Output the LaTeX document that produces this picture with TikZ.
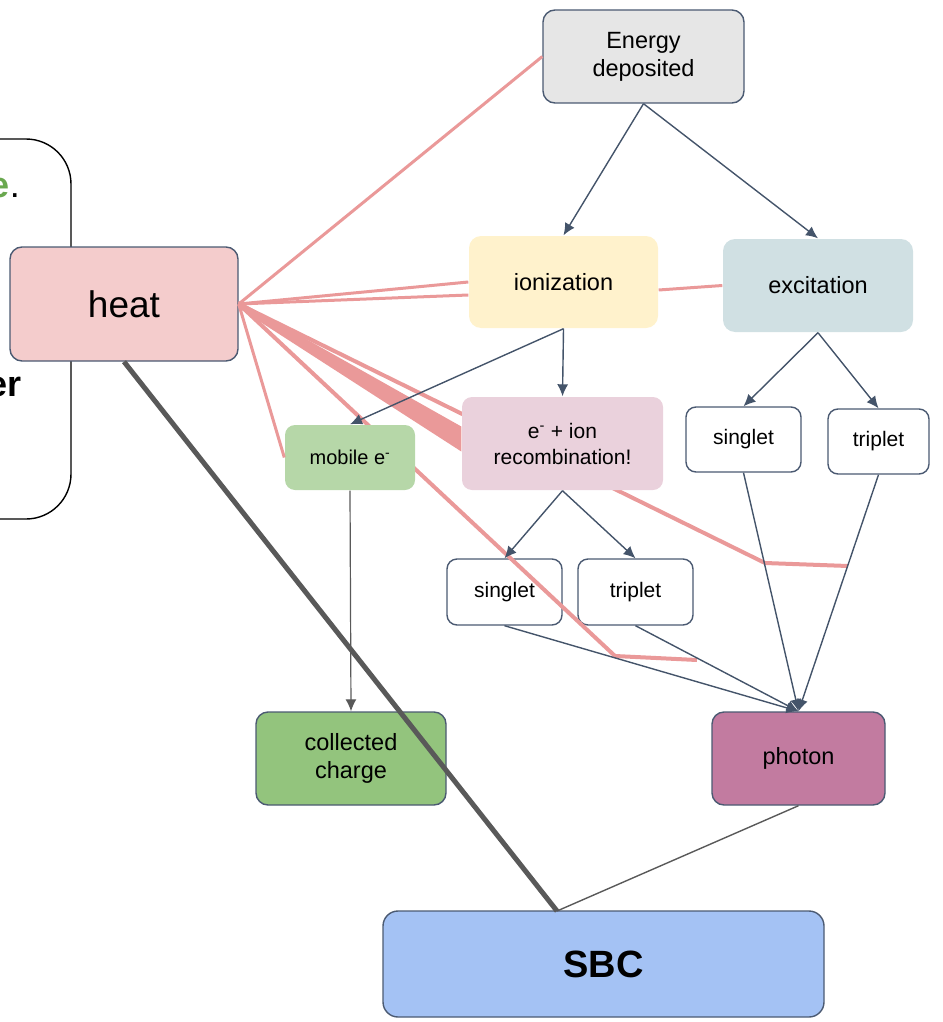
\documentclass[tikz,border=0pt]{standalone}
\usepackage{fontspec}
\setmainfont{Liberation Sans}
\usetikzlibrary{arrows.meta,calc}

\definecolor{bordc}{HTML}{4B5A72}
\definecolor{arrc}{HTML}{44546A}
\definecolor{redc}{HTML}{EA9999}
\definecolor{grayc}{HTML}{595959}
\definecolor{greenc}{HTML}{6AA84F}
\definecolor{fill_en}{HTML}{E6E6E6}
\definecolor{fill_heat}{HTML}{F4CCCC}
\definecolor{fill_ion}{HTML}{FFF2CC}
\definecolor{fill_exc}{HTML}{D0E0E3}
\definecolor{fill_rec}{HTML}{EAD1DC}
\definecolor{fill_mob}{HTML}{B6D7A8}
\definecolor{fill_coll}{HTML}{93C47D}
\definecolor{fill_phot}{HTML}{C27BA0}
\definecolor{fill_sbc}{HTML}{A4C2F4}

\begin{document}
\begin{tikzpicture}
  [x=1pt,y=-1pt,
   box/.style={rectangle, rounded corners=12pt, draw=bordc, line width=1.4pt, inner sep=0pt, align=center, font=\fontsize{23.5}{28}\selectfont},
   flat/.style={box, draw=none},
   small/.style={box, rounded corners=10pt, font=\fontsize{21}{26}\selectfont},
   flow/.style={-{Latex[length=12pt,width=11pt]}, line width=1.4pt, draw=arrc},
   hot/.style={draw=redc, line width=3pt}]

  \useasboundingbox (0,0) rectangle (942,1022);
  \clip (0,0) rectangle (942,1022);

  %%%%%%%%%%%%%%%%%%%%%% LEFT BOX %%%%%%%%%%%%%%%%%%%%%%

  \node[draw=black, line width=1.4pt, rounded corners=45pt, minimum width=222pt, minimum height=380pt] (side_box) at (-40,329) {};
  \node[anchor=base east, inner sep=0pt, font=\fontsize{36}{40}\selectfont] (frag_top) at (20,197) {\textcolor{greenc}{\bfseries e}.};
  \node[anchor=base east, inner sep=0pt, font=\fontsize{36}{40}\selectfont\bfseries] (frag_low) at (22,396) {er};

  %%%%%%%%%%%%%%%%%%%%%% NODES %%%%%%%%%%%%%%%%%%%%%%

  \node[box, fill=fill_heat, minimum width=228pt, minimum height=114pt, font=\fontsize{37}{42}\selectfont] (heat) at (124,304) {heat};
  \node[box, fill=fill_en, minimum width=201pt, minimum height=93pt] (en_dep) at (643.5,56.5) {Energy\\deposited};
  \node[flat, fill=fill_ion, minimum width=189pt, minimum height=92pt] (ion) at (563.5,282) {ionization};
  \node[flat, fill=fill_exc, minimum width=190pt, minimum height=93pt] (exc) at (818,285.5) {excitation};
  \node[small, fill=white, minimum width=115pt, minimum height=65pt] (sing_1) at (743.5,439.5) {singlet};
  \node[small, fill=white, minimum width=101pt, minimum height=65pt] (trip_1) at (878.5,441.5) {triplet};
  \node[small, fill=white, minimum width=115pt, minimum height=66pt] (sing_2) at (504.5,592) {singlet};
  \node[small, fill=white, minimum width=115pt, minimum height=66pt] (trip_2) at (635.5,592) {triplet};
  \node[box, fill=fill_coll, minimum width=190pt, minimum height=93pt] (coll) at (351,758.5) {collected\\charge};
  \node[box, fill=fill_phot, minimum width=173pt, minimum height=93pt] (phot) at (798.5,758.5) {photon};
  \node[box, fill=fill_sbc, rounded corners=15pt, minimum width=441pt, minimum height=106pt, font=\fontsize{38}{42}\selectfont\bfseries] (sbc) at (603.5,964) {SBC};

  %%%%%%%%%%%%%%%%%%%%%% HEAT LINES %%%%%%%%%%%%%%%%%%%%%%

  \coordinate (k_1) at (765,563);
  \coordinate (k_2) at (848,566);
  \coordinate (k_3) at (615,656);
  \coordinate (k_4) at (697,660);

  \draw[hot] (heat.east) -- (en_dep.west);
  \draw[hot] (heat.east) -- (ion.west);
  \draw[hot] (heat.east) -- ($(ion.west)+(0,13)$);
  \draw[hot] ($(ion.east)+(0,8)$) -- (exc.west);
  \draw[hot, line width=4pt] (heat.east) -- (k_1) -- (k_2);
  \draw[hot, line width=4pt] (heat.east) -- (k_3) -- (k_4);

  \node[flat, fill=fill_mob, rounded corners=10pt, minimum width=130pt, minimum height=65pt, font=\fontsize{20}{24}\selectfont] (mob_e) at (350,457.5) {mobile e\textsuperscript{-}};
  \node[small, draw=none, fill=fill_rec, minimum width=201pt, minimum height=93pt] (recomb) at (562.5,443.5) {e\textsuperscript{-} + ion\\recombination!};

  \draw[hot] (heat.east) -- (mob_e.west);
  \fill[redc] ($(heat.east)+(0,-3)$) -- ($(recomb.west)+(0,-17)$) -- ($(recomb.west)+(0,8)$) -- ($(heat.east)+(0,4)$) -- cycle;

  %%%%%%%%%%%%%%%%%%%%%% ARROWS %%%%%%%%%%%%%%%%%%%%%%

  \foreach \fromnode/\tonode in {en_dep/ion,en_dep/exc,ion/recomb,ion/mob_e,exc/sing_1,exc/trip_1,recomb/sing_2,recomb/trip_2,sing_1/phot,trip_1/phot,sing_2/phot,trip_2/phot}
    \draw[flow] (\fromnode.south) -- (\tonode.north);

  \draw[flow, draw=grayc, line width=1.2pt] (mob_e.south) -- (coll.north);

  \coordinate (sbc_in) at (557,911);
  \draw[grayc, line width=1.4pt] (phot.south) -- (sbc_in);
  \draw[grayc, line width=5pt] (heat.south) -- (sbc_in);

\end{tikzpicture}
\end{document}
